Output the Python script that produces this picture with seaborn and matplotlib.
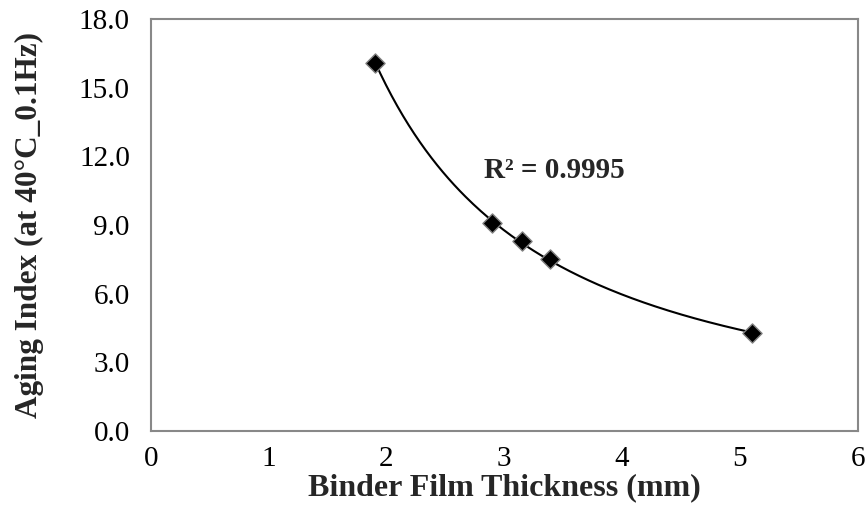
import numpy as np
import pandas as pd
import matplotlib
matplotlib.use("Agg")
import matplotlib.pyplot as plt
import seaborn as sns

# Measured data
film_thickness = [1.90, 2.90, 3.15, 3.39, 5.10]
aging_index = [16.1, 9.1, 8.3, 7.5, 4.28]

x_ticks = [0, 1, 2, 3, 4, 5, 6]
y_ticks = [0.0, 3.0, 6.0, 9.0, 12.0, 15.0, 18.0]
r2_label = "R² = 0.9995"

sns.set_style("white")
plt.rcParams["font.family"] = ["Liberation Serif", "DejaVu Serif"]

df = pd.DataFrame({"thickness": film_thickness, "aging": aging_index})

# Power-law trendline y = a * x^b fitted in log space
b, log_a = np.polyfit(np.log(df["thickness"]), np.log(df["aging"]), 1)
xs = np.linspace(min(film_thickness), max(film_thickness), 200)
fit = pd.DataFrame({"thickness": xs, "aging": np.exp(log_a) * xs ** b})

fig = plt.figure(figsize=(8.68, 5.14), dpi=100)
ax = fig.add_axes([0.1736, 0.1615, 0.8145, 0.8015])

sns.lineplot(data=fit, x="thickness", y="aging", ax=ax, color="black",
             linewidth=1.5, zorder=2)
sns.scatterplot(data=df, x="thickness", y="aging", ax=ax, marker="D",
                s=95, color="black", edgecolor="#808080", linewidth=1.0,
                zorder=3)

ax.set_xlim(0, 6)
ax.set_ylim(0, 18)
ax.set_xticks(x_ticks)
ax.set_xticklabels([str(t) for t in x_ticks])
ax.set_yticks(y_ticks)
ax.set_yticklabels([f"{t:.1f}" for t in y_ticks])

ax.tick_params(axis="both", direction="out", length=5, width=1.5,
               color="#888888", labelsize=21, labelcolor="black")
ax.tick_params(axis="y", pad=10)
ax.tick_params(axis="x", pad=6)
for side in ax.spines.values():
    side.set_color("#888888")
    side.set_linewidth(1.5)

ax.set_xlabel("Binder Film Thickness (mm)", fontsize=23, fontweight="bold",
              labelpad=1)
ax.set_ylabel("Aging Index (at 40°C_0.1Hz)", fontsize=22.5, fontweight="bold",
              labelpad=25)

ax.text(3.43, 11.4, r2_label, fontsize=21, fontweight="bold",
        ha="center", va="center")

fig.savefig("out.png", dpi=100)
